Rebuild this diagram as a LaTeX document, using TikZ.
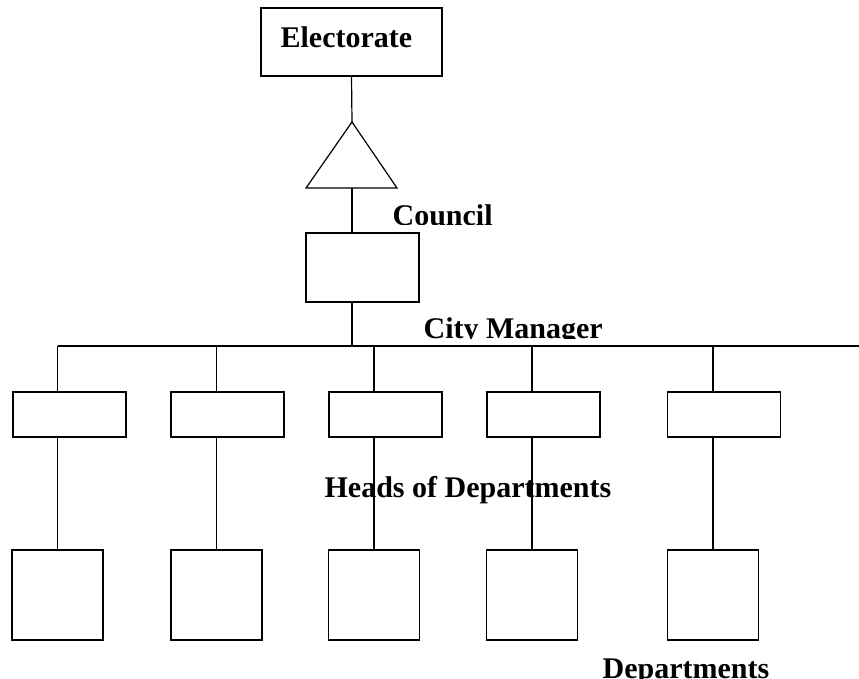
\documentclass[tikz,border=0pt]{standalone}
\usepackage{fontspec}
\setmainfont{Liberation Serif}
\begin{document}
\begin{tikzpicture}[x=1pt,y=-1pt,line width=1.2pt,
  plainbox/.style={draw,inner sep=0pt,minimum width=#1},
  headbox/.style={draw,inner sep=0pt,minimum width=113pt,minimum height=45pt},
  deptbox/.style={draw,inner sep=0pt,minimum width=91pt,minimum height=90pt},
  lbl/.style={font=\fontsize{30}{36}\selectfont\bfseries,inner sep=0pt,anchor=base west}]
\useasboundingbox (0,0) rectangle (859,678);
% top
\node[draw,inner sep=0pt,minimum width=181pt,minimum height=68pt] (elect) at (351.5,42) {};
\node[lbl] (electtxt) at (280,47) {Electorate};
\coordinate (apex) at (352,122);
\coordinate (triL) at (306,188);
\coordinate (triR) at (397,188);
\coordinate (tribase) at (352,188);
\draw (apex) -- (triL) -- (triR) -- cycle;
\node[draw,inner sep=0pt,minimum width=113pt,minimum height=69pt] (council) at (362.5,267.5) {};
\begin{scope}
  \clip (380,190) rectangle (520,224.5);
  \node[lbl] (counciltxt) at (392,225.5) {Council};
\end{scope}
\begin{scope}
  \clip (410,300) rectangle (640,338);
  \node[lbl] (cmtxt) at (423,338.5) {City Manager};
\end{scope}
\coordinate (bus) at (0,346);
\coordinate (busR) at (859,346);
% heads
\node[headbox] (h1) at (69.5,414.5) {};
\node[headbox] (h2) at (227.5,414.5) {};
\node[headbox] (h3) at (385.5,414.5) {};
\node[headbox] (h4) at (543.5,414.5) {};
\node[headbox] (h5) at (724,414.5) {};
% departments
\node[deptbox] (d1) at (57.5,595) {};
\node[deptbox] (d2) at (216.5,595) {};
\node[deptbox] (d3) at (374,595) {};
\node[deptbox] (d4) at (532,595) {};
\node[deptbox] (d5) at (713,595) {};
\node[lbl] (headstxt) at (324,497) {Heads of Departments};
\begin{scope}
  \clip (590,640) rectangle (780,678);
  \node[lbl] (depttxt) at (602,678) {Departments};
\end{scope}
% connectors
\draw (elect.south) -- (apex);
\draw (tribase) -- (tribase |- council.north);
\draw (tribase |- council.south) -- (tribase |- bus);
\draw (d1.north |- bus) -- (busR);
\foreach \i in {1,...,5}{
  \draw (d\i.north |- bus) -- (d\i.north |- h\i.north);
  \draw (d\i.north |- h\i.south) -- (d\i.north);
}
\end{tikzpicture}
\end{document}
